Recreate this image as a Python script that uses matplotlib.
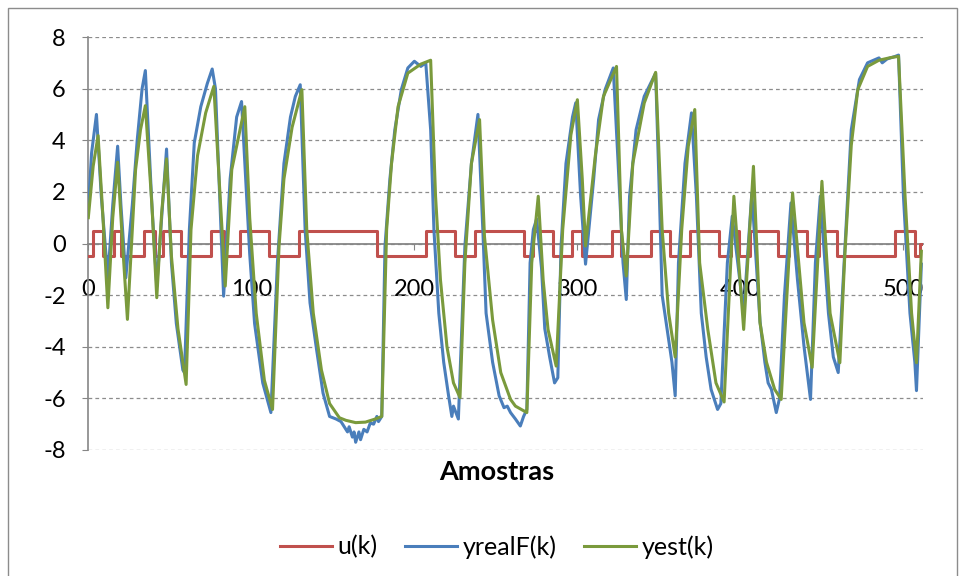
import matplotlib
matplotlib.use('Agg')
import matplotlib.pyplot as plt
from matplotlib.patches import Rectangle

plt.rcParams['font.family'] = ['Lato', 'DejaVu Sans']
plt.rcParams['axes.unicode_minus'] = False

# entrada u(k): instantes de troca e nivel
u_k = [0, 3, 9, 16, 20, 34, 41, 46, 57, 75, 83, 93, 111, 129, 177, 207, 225, 237,
       267, 273, 285, 297, 303, 321, 327, 345, 357, 369, 387, 394, 399, 406, 423,
       430, 441, 448, 459, 495, 507, 510, 511]
u_val = [-0.5, 0.5, -0.5, 0.5, -0.5, 0.5, -0.5, 0.5, -0.5, 0.5, -0.5, 0.5, -0.5,
         0.5, -0.5, 0.5, -0.5, 0.5, -0.5, 0.5, -0.5, 0.5, -0.5, 0.5, -0.5, 0.5,
         -0.5, 0.5, -0.5, 0.5, -0.5, 0.5, -0.5, 0.5, -0.5, 0.5, -0.5, 0.5, -0.5,
         0.0, 0.0]

# saida real filtrada
yreal_k = [0, 2, 5, 8, 12, 15, 18, 20, 23, 27, 30, 33, 35, 39, 42, 45, 48, 51, 54,
           58, 59, 62, 65, 69, 73, 76, 78, 83, 87, 91, 94, 99, 102, 107, 112, 116,
           120, 124, 127, 130, 133, 136, 140, 144, 148, 152, 155, 157, 159, 160,
           162, 163, 164, 166, 167, 169, 171, 173, 175, 177, 178, 180, 182, 185,
           188, 192, 196, 200, 204, 207, 210,
           212, 215, 218, 221, 223, 224, 227, 231, 235, 239, 242, 244, 248, 252,
           255, 257, 259, 262, 265, 267, 269, 271, 273, 275, 278, 280, 283, 286,
           288, 290, 293, 297, 299, 302, 305, 310, 313, 317, 322, 325, 328, 330,
           332, 336, 341, 348, 350, 352, 355, 358, 360, 362, 366, 370, 373, 376,
           379, 382, 386, 388, 392, 395, 402, 407, 412, 415, 417, 419, 422, 424,
           427, 431, 435, 439, 443, 446, 449, 454, 457, 460, 463, 468, 473, 478,
           485, 487, 490, 495, 497, 500, 504, 507, 508, 511]
yreal_val = [1.3, 3.5, 5.0, 1.8, -1.33, 1.5, 3.77, 1.5, -1.33, 1.5, 4.0, 6.0, 6.7,
             1.5, -1.65, 1.0, 3.66, -0.75, -3.1, -4.9, -5.0, 0.54, 3.9, 5.3, 6.2,
             6.76, 6.0, -2.04, 2.5, 4.9, 5.5, -0.4, -3.1, -5.4, -6.55, -0.75, 3.1,
             4.9, 5.7, 6.15, 0.54, -2.3, -4.1, -5.8, -6.7, -6.8, -6.9, -7.1, -7.3,
             -7.1, -7.5, -7.3, -7.7, -7.3, -7.6, -7.2, -7.3, -6.95, -7.0, -6.7,
             -6.9, -6.7, -0.1, 2.5, 4.4, 5.96, 6.8, 7.06,
             6.86, 7.0, 4.4, 0.54, -2.7, -4.6, -5.9, -6.7, -6.3, -6.8, -0.1, 3.1,
             5.0, 0.54, -2.7, -4.6, -5.9, -6.36, -6.3, -6.55, -6.8, -7.07, -6.7,
             -6.43, -0.75, 0.54, 0.95, -0.95, -3.3, -4.4, -5.4, -5.2, -0.1, 3.1,
             4.9, 5.45, 1.83, -0.8, 2.5, 4.8, 5.96, 6.8, 3.1, -0.75, -2.17, 1.83,
             4.4, 5.7, 6.6, 2.5, -2.0, -3.3, -4.6, -5.9, -0.75, 3.1, 5.06, 1.83,
             -2.7, -4.4, -5.65, -6.43, -6.2, -0.75, 1.06, -2.7, 1.96, -3.0, -4.6,
             -5.4, -5.65, -6.55, -6.0, -2.04, 1.57, -1.4, -3.98, -6.04, -0.75, 1.83,
             -2.7, -4.4, -5.0, -1.5, 4.4, 6.35, 7.0, 7.19, 7.0, 7.15, 7.25, 7.3,
             1.83, -2.7, -4.6, -5.7, -0.8]

# saida estimada pelo modelo
yest_k = [0, 3, 6, 9, 12, 15, 18, 21, 24, 29, 32, 35, 39, 42, 45, 48, 51, 55, 60,
          63, 67, 72, 77, 84, 88, 96, 99, 103, 108, 113, 117, 120, 125, 131, 134,
          138, 143, 148, 154, 158, 164, 170, 176, 180, 183, 186, 190, 196, 204,
          210, 213, 216, 220, 224, 228, 231, 235, 240, 243, 248, 253, 259, 262,
          269, 272, 276, 279, 282, 287, 291, 296, 300, 303, 305, 311, 316, 324,
          327, 330, 334, 341, 348, 352, 356, 360, 364, 368, 372, 375, 380, 385,
          390, 396, 402, 408, 412, 416, 421, 425, 432, 439, 444, 450, 455, 461,
          464, 468, 472, 478, 485, 492, 497, 501, 505, 508, 511]
yest_val = [1.0, 3.0, 4.18, 1.0, -2.49, 1.0, 3.15, 0.0, -2.94, 2.86, 4.4, 5.34,
            1.5, -2.1, 1.2, 3.28, -0.5, -3.3, -5.46, 0.54, 3.4, 5.06, 6.09, -1.65,
            2.86, 5.3, 1.0, -2.7, -5.3, -6.43, -0.1, 2.5, 4.5, 5.96, 0.54, -2.7,
            -4.9, -6.2, -6.75, -6.85, -6.94, -6.92, -6.8, -6.7, 0.54, 3.1, 5.3,
            6.6, 6.95, 7.1, 1.83, -1.4, -4.0, -5.4, -5.97, -0.75, 3.1, 4.8, 0.28,
            -2.96, -5.0, -6.04, -6.3, -6.55, -0.75, 1.83, -1.4, -3.33, -4.75, 0.54,
            4.2, 5.57, 2.5, -0.1, 3.4, 5.7, 6.86, 0.54, -1.26, 3.1, 5.44, 6.63,
            0.54, -2.7, -4.4, 0.54, 3.76, 5.19, -0.75, -3.33, -5.4, -6.14, 1.83,
            -3.33, 2.99, -3.07, -4.6, -5.65, -6.04, 1.96, -3.07, -4.8, 2.41, -2.7,
            -4.62, -0.5, 3.8, 5.96, 6.86, 7.1, 7.2, 7.25, 1.83, -2.7, -4.62, -0.3]

W, H = 964, 576
fig = plt.figure(figsize=(W / 100, H / 100), dpi=100)
ax = fig.add_axes([88.3 / W, 1 - 450 / H, (923 - 88.3) / W, (450 - 37) / H])

ax.step(u_k, u_val, where='post', color='#C0504D', lw=2.2, label='u(k)', zorder=3)
ax.plot(yreal_k, yreal_val, color='#4A7EBB', lw=2.2, label='yrealF(k)', zorder=3,
        solid_joinstyle='round')
ax.plot(yest_k, yest_val, color='#7A9A3C', lw=2.2, label='yest(k)', zorder=3,
        solid_joinstyle='round')

ax.set_xlim(0, 512)
ax.set_ylim(-8, 8)
ax.set_yticks(range(-8, 9, 2))
ax.set_xticks(range(0, 501, 100))
ax.yaxis.grid(True, linestyle=(0, (3, 2.5)), color='#8c8c8c', lw=0.9)
ax.set_axisbelow(True)

for s in ('top', 'right'):
    ax.spines[s].set_visible(False)
ax.spines['left'].set_color('#868686')
ax.spines['left'].set_linewidth(1.2)
ax.spines['bottom'].set_position(('data', 0))
ax.spines['bottom'].set_color('#868686')
ax.spines['bottom'].set_linewidth(1.3)

ax.tick_params(axis='y', direction='out', length=4.3, color='#868686',
               labelsize=17, pad=12)
ax.tick_params(axis='x', direction='out', length=4.3, color='#868686',
               labelsize=17, pad=21)

fig.text(497 / W, 1 - 472 / H, 'Amostras', ha='center', va='center',
         fontsize=19.5, fontweight='bold')

fig.legend(loc='center', bbox_to_anchor=(496.5 / W, 1 - 547 / H), ncol=3,
           frameon=False, fontsize=18, handlelength=2.1, handletextpad=0.2,
           columnspacing=1.1)

fig.patches.append(Rectangle((8 / W, -0.1), 949 / W, 1.1 - 8 / H,
                             transform=fig.transFigure, fill=False,
                             edgecolor='#8c8c8c', lw=1))

fig.savefig('out.png', dpi=100)
